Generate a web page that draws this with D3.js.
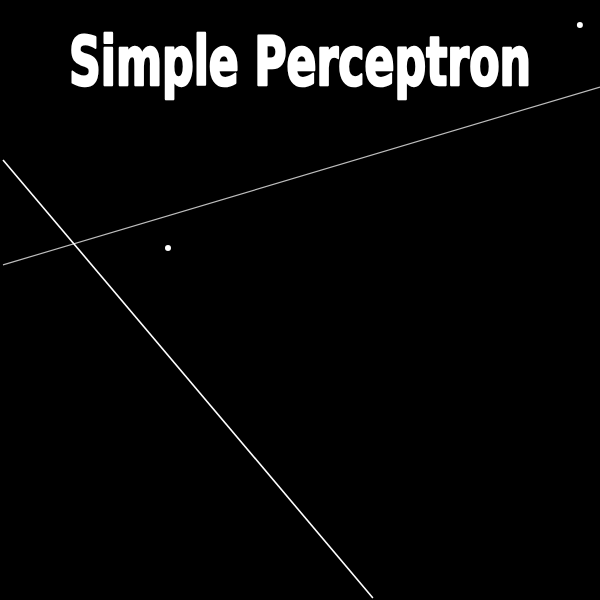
<!DOCTYPE html>
<html>
<head>
<meta charset="utf-8">
<script src="https://cdn.jsdelivr.net/npm/d3@7"></script>
<style>
  body { margin: 0; background: #000; }
  svg { display: block; }
</style>
</head>
<body>
<svg id="chart" width="600" height="600"></svg>
<script>
// points in canvas space, -1..1 on both axes
var pointX = [-0.44, 0.933];
var pointY = [0.173, 0.917];

// line the perceptron guesses (white) and the target line (gray)
var guessX = [-0.99, 0.243];
var guessY = [0.467, -0.993];
var targetX = [-0.99, 1.0];
var targetY = [0.117, 0.71];

var title = "Simple Perceptron";

var width = 600, height = 600;
var svg = d3.select("#chart");

svg.append("rect")
    .attr("width", width)
    .attr("height", height)
    .attr("fill", "#000");

var x = d3.scaleLinear().domain([-1, 1]).range([0, width]);
var y = d3.scaleLinear().domain([-1, 1]).range([height, 0]);

var line = d3.line()
    .x(function(d) { return x(d[0]); })
    .y(function(d) { return y(d[1]); });

// target line
svg.append("path")
    .datum(d3.zip(targetX, targetY))
    .attr("d", line)
    .attr("fill", "none")
    .attr("stroke", "#bdbdbd")
    .attr("stroke-width", 1.2);

// guess line
svg.append("path")
    .datum(d3.zip(guessX, guessY))
    .attr("d", line)
    .attr("fill", "none")
    .attr("stroke", "#fff")
    .attr("stroke-width", 1.6);

svg.selectAll("circle")
    .data(d3.zip(pointX, pointY))
    .enter()
    .append("circle")
    .attr("cx", function(d) { return x(d[0]); })
    .attr("cy", function(d) { return y(d[1]); })
    .attr("r", 3)
    .attr("fill", "#fff");

// heavy condensed title, stroke thickens it toward an Impact look
svg.append("text")
    .attr("x", width / 2)
    .attr("y", 85)
    .attr("text-anchor", "middle")
    .attr("fill", "#fff")
    .attr("stroke", "#fff")
    .attr("stroke-width", 2.5)
    .attr("stroke-linejoin", "round")
    .attr("font-family", "'DejaVu Sans Condensed', 'Liberation Sans Narrow', sans-serif")
    .attr("font-weight", "bold")
    .attr("font-size", 68)
    .attr("textLength", 462)
    .attr("lengthAdjust", "spacingAndGlyphs")
    .text(title);
</script>
</body>
</html>
